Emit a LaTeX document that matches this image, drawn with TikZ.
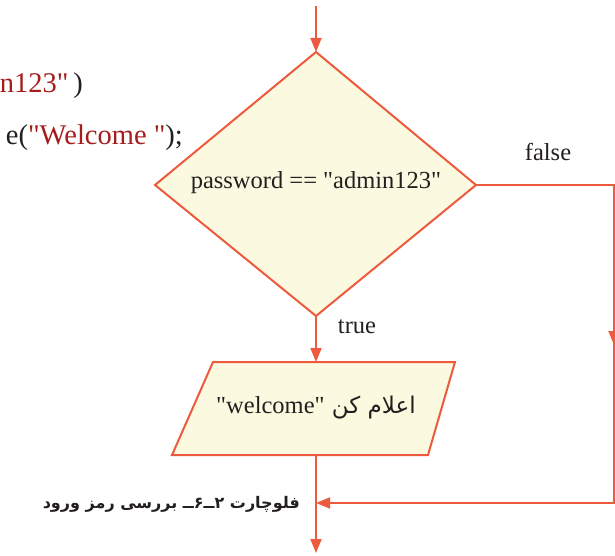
\documentclass[tikz,border=0pt]{standalone}
\usepackage{fontspec}
\setmainfont{Liberation Serif}[Ligatures=TeXOff]
\newfontfamily\arabicfont[Script=Arabic]{DejaVu Sans}
\TeXXeTstate=1
\usetikzlibrary{arrows.meta}
\definecolor{edge}{HTML}{EE5A3E}
\definecolor{boxfill}{HTML}{FBF9DF}
\definecolor{codered}{HTML}{A61C1C}
\definecolor{ink}{HTML}{231F20}
\tikzset{
  flow/.style={draw=edge, line width=2pt, line join=miter},
  conn/.style={draw=edge, line width=2pt, -{Triangle[length=14pt,width=11pt]}},
  plain/.style={draw=edge, line width=2pt},
  txt/.style={font=\fontsize{24.5}{28}\selectfont, text=ink, inner sep=0pt},
  codetxt/.style={font=\fontsize{28.5}{32}\selectfont, text=ink, inner sep=0pt},
}
\begin{document}
\begin{tikzpicture}[x=1pt,y=-1pt]
\useasboundingbox (0,0) rectangle (615,556);
\clip (0,0) rectangle (615,556);
% code fragments
\node[codetxt, anchor=base east] (code1) at (83,93) {\textcolor{codered}{n123"}\,)};
\node[codetxt, anchor=base east] (code2) at (183,145) {e(\textcolor{codered}{"Welcome "});};
% coordinates
\coordinate (start) at (316,6);
\coordinate (dT) at (316,52);
\coordinate (dL) at (155,185);
\coordinate (dR) at (476,185);
\coordinate (dB) at (316,316);
\coordinate (pTL) at (213,362);
\coordinate (pTR) at (455,362);
\coordinate (pBR) at (428,455);
\coordinate (pBL) at (172,455);
\coordinate (pT) at (316,362);
\coordinate (pB) at (316,455);
\coordinate (rTop) at (614,185);
\coordinate (rMid) at (614,345);
\coordinate (rBot) at (614,503);
\coordinate (join) at (316,503);
\coordinate (end) at (316,553);
% shapes
\filldraw[flow, fill=boxfill] (dT) -- (dR) -- (dB) -- (dL) -- cycle;
\filldraw[flow, fill=boxfill] (pTL) -- (pTR) -- (pBR) -- (pBL) -- cycle;
\node[txt] (cond) at (316,183) {password == "admin123"};
\node[txt] (out) at (316,408) {\arabicfont\fontsize{23}{26}\selectfont\beginR اعلام کن \beginL{\rmfamily\fontsize{24.5}{28}\selectfont"welcome"}\endL\endR};
\node[txt] (falselbl) at (548,152) {false};
\node[txt] (truelbl) at (357,327) {true};
% connectors
\draw[conn] (start) -- (dT);
\draw[conn] (dB) -- (pT);
\draw[plain] (dR) -- (rTop) -- (rMid);
\draw[conn] (rTop) -- (rMid);
\draw[conn] (rMid) -- (rBot) -- (join);
\draw[conn] (pB) -- (end);
% caption
\node[anchor=east, inner sep=0pt, text=ink] (caption) at (300,504) {\arabicfont\bfseries\fontsize{16}{19}\selectfont\beginR فلوچارت ۲ــ۶ــ بررسی رمز ورود\endR};
\end{tikzpicture}
\end{document}
